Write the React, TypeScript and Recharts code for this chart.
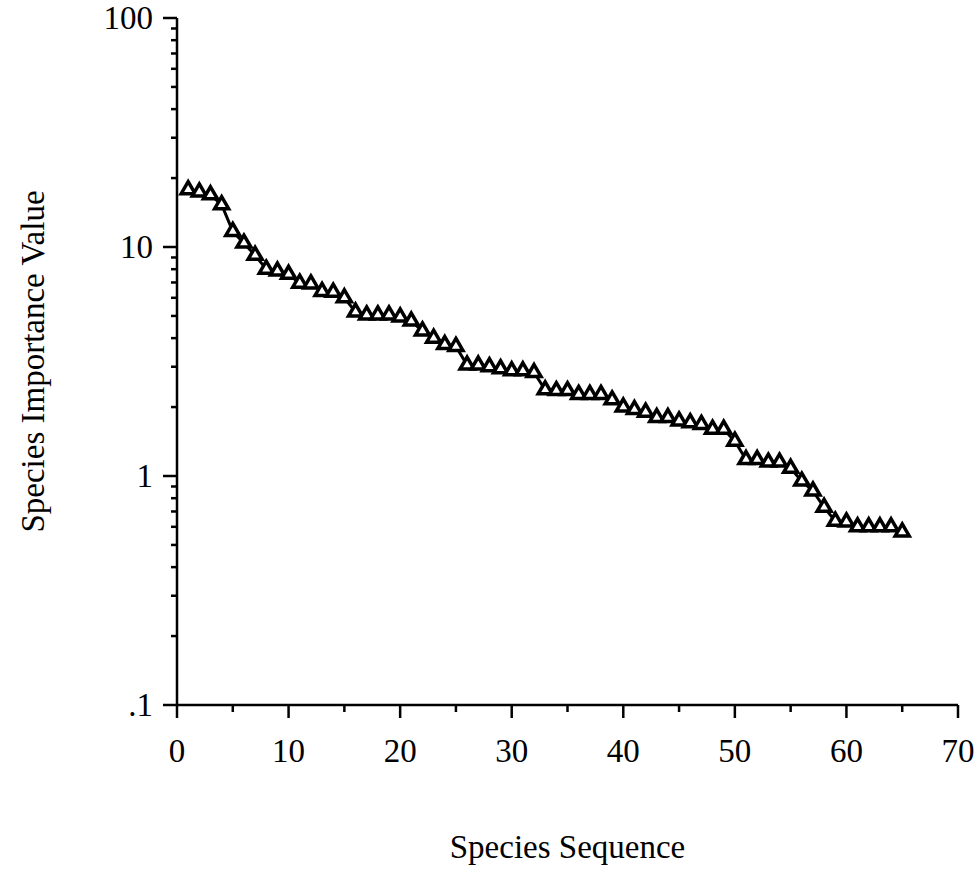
import React from 'react';
import { LineChart, Line, XAxis, YAxis } from 'recharts';

const speciesRank = [
  1, 2, 3, 4, 5, 6, 7, 8, 9, 10, 11, 12, 13, 14, 15, 16, 17, 18, 19, 20,
  21, 22, 23, 24, 25, 26, 27, 28, 29, 30, 31, 32, 33, 34, 35, 36, 37, 38, 39, 40,
  41, 42, 43, 44, 45, 46, 47, 48, 49, 50, 51, 52, 53, 54, 55, 56, 57, 58, 59, 60,
  61, 62, 63, 64, 65,
];

const importanceValues = [
  17.8, 17.4, 16.9, 15.3, 11.7, 10.4, 9.2, 8.0, 7.85, 7.6,
  6.95, 6.9, 6.4, 6.35, 6.0, 5.2, 5.05, 5.05, 5.05, 4.95,
  4.75, 4.3, 4.0, 3.75, 3.68, 3.05, 3.05, 3.0, 2.94, 2.88,
  2.88, 2.83, 2.38, 2.36, 2.36, 2.27, 2.27, 2.27, 2.15, 2.0,
  1.95, 1.9, 1.8, 1.8, 1.74, 1.71, 1.68, 1.6, 1.6, 1.42,
  1.18, 1.18, 1.15, 1.15, 1.08, 0.95, 0.86, 0.73, 0.635, 0.63,
  0.6, 0.6, 0.6, 0.6, 0.57,
];

const xTicks = [0, 5, 10, 15, 20, 25, 30, 35, 40, 45, 50, 55, 60, 65, 70];
const xLabelTicks = [0, 10, 20, 30, 40, 50, 60, 70];
const yMajorTicks = [0.1, 1, 10, 100];
const yTickLabels = ['.1', '1', '10', '100'];
const yMinorTicks = [
  0.2, 0.3, 0.4, 0.5, 0.6, 0.7, 0.8, 0.9,
  2, 3, 4, 5, 6, 7, 8, 9,
  20, 30, 40, 50, 60, 70, 80, 90,
];

const xTitle = 'Species Sequence';
const yTitle = 'Species Importance Value';

const data = speciesRank.map((r, i) => ({ rank: r, value: importanceValues[i] }));

const FONT = '"Liberation Serif", "DejaVu Serif", serif';

const YTick = (props: any) => {
  const { x, y, payload } = props;
  const v = payload.value;
  const idx = yMajorTicks.findIndex((m) => Math.abs(m - v) < 1e-9);
  const major = idx >= 0;
  return (
    <g>
      <line x1={x} x2={x - (major ? 14 : 6)} y1={y} y2={y} stroke="#000" strokeWidth={2.5} />
      {major && (
        <text
          x={x - 24}
          y={y}
          textAnchor="end"
          dominantBaseline="central"
          fontFamily={FONT}
          fontSize={33}
          fill="#000"
        >
          {yTickLabels[idx]}
        </text>
      )}
    </g>
  );
};

const XTick = (props: any) => {
  const { x, y, payload } = props;
  const v = payload.value;
  const major = xLabelTicks.includes(v);
  return (
    <g>
      <line x1={x} x2={x} y1={y} y2={y + (major ? 13 : 7)} stroke="#000" strokeWidth={2.5} />
      {major && (
        <text
          x={x}
          y={y + 46}
          textAnchor="middle"
          dominantBaseline="central"
          fontFamily={FONT}
          fontSize={33}
          fill="#000"
        >
          {v}
        </text>
      )}
    </g>
  );
};

const TriangleDot = (props: any) => {
  const { cx, cy, index } = props;
  if (cx == null || cy == null) return null;
  const w = 7;
  const path = `M ${cx} ${cy - 8} L ${cx + w} ${cy + 4} L ${cx - w} ${cy + 4} Z`;
  return (
    <path
      key={`tri-${index}`}
      d={path}
      fill="#fff"
      stroke="#000"
      strokeWidth={3.5}
      strokeLinejoin="miter"
    />
  );
};

const XTitle = (props: any) => {
  const vb = props.viewBox || {};
  return (
    <text
      x={vb.x + vb.width / 2}
      y={vb.y + 142}
      textAnchor="middle"
      dominantBaseline="central"
      fontFamily={FONT}
      fontSize={33}
      fill="#000"
    >
      {xTitle}
    </text>
  );
};

const YTitle = (props: any) => {
  const vb = props.viewBox || {};
  const cx = vb.x + 33;
  const cy = vb.y + vb.height / 2;
  return (
    <text
      x={cx}
      y={cy}
      textAnchor="middle"
      dominantBaseline="central"
      fontFamily={FONT}
      fontSize={33}
      fill="#000"
      transform={`rotate(-90 ${cx} ${cy})`}
    >
      {yTitle}
    </text>
  );
};

export default function App() {
  return (
    <div style={{ position: 'absolute', left: 0, top: 0, width: 980, height: 888, background: '#fff' }}>
      <LineChart
        width={980}
        height={888}
        data={data}
        margin={{ top: 18, right: 22, bottom: 23, left: 0 }}
      >
        <XAxis
          dataKey="rank"
          type="number"
          domain={[0, 70]}
          ticks={xTicks}
          interval={0}
          height={160}
          tickSize={0}
          tickMargin={0}
          tickLine={false}
          axisLine={{ stroke: '#000', strokeWidth: 2.5 }}
          tick={<XTick />}
          label={{ content: <XTitle /> } as any}
        />
        <YAxis
          dataKey="value"
          type="number"
          scale="log"
          domain={[0.1, 100]}
          allowDataOverflow
          ticks={[...yMajorTicks, ...yMinorTicks].sort((a, b) => a - b)}
          interval={0}
          width={177}
          tickSize={0}
          tickMargin={0}
          tickLine={false}
          axisLine={{ stroke: '#000', strokeWidth: 2.5 }}
          tick={<YTick />}
          label={{ content: <YTitle /> } as any}
        />
        <Line
          type="linear"
          dataKey="value"
          stroke="#000"
          strokeWidth={3}
          dot={<TriangleDot />}
          activeDot={false}
          isAnimationActive={false}
        />
      </LineChart>
    </div>
  );
}
